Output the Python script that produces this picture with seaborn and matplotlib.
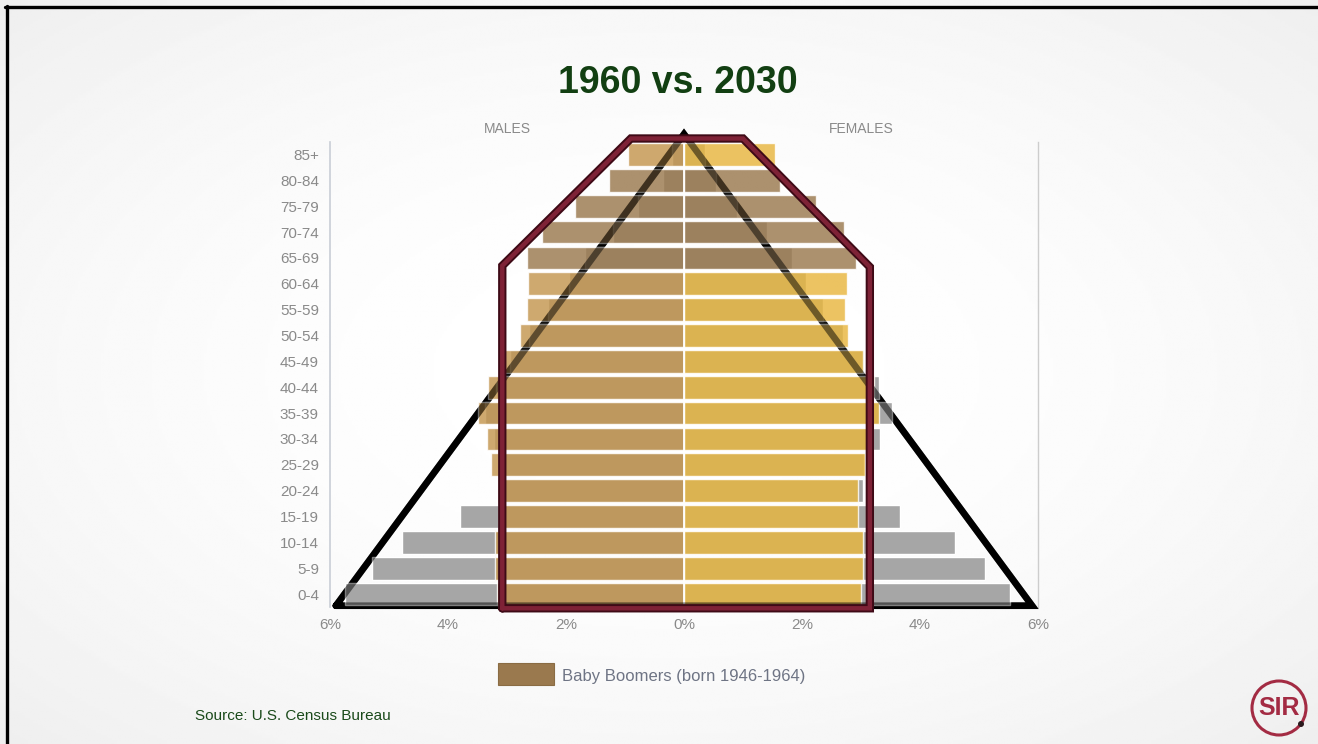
import numpy as np
import pandas as pd
import matplotlib
matplotlib.use("Agg")
import matplotlib.pyplot as plt
import matplotlib.patheffects as pe
from matplotlib.patches import Circle, Rectangle
from matplotlib.lines import Line2D
import seaborn as sns

# Age groups, youngest first
ages = ["0-4", "5-9", "10-14", "15-19", "20-24", "25-29", "30-34", "35-39", "40-44",
        "45-49", "50-54", "55-59", "60-64", "65-69", "70-74", "75-79", "80-84", "85+"]

# Share of total population (%) by sex and age group
male_1960 = [5.75, 5.29, 4.78, 3.80, 3.08, 3.12, 3.22, 3.38, 3.18,
             2.95, 2.62, 2.30, 1.95, 1.68, 1.20, 0.78, 0.36, 0.20]
female_1960 = [5.53, 5.10, 4.59, 3.66, 3.03, 3.05, 3.32, 3.53, 3.30,
               3.05, 2.70, 2.36, 2.07, 1.83, 1.40, 0.90, 0.55, 0.35]
male_2030 = [3.17, 3.20, 3.20, 3.13, 3.15, 3.27, 3.34, 3.49, 3.32,
             3.08, 2.78, 2.66, 2.64, 2.66, 2.41, 1.85, 1.27, 0.95]
female_2030 = [3.00, 3.03, 3.03, 2.95, 2.95, 3.07, 3.12, 3.31, 3.22,
               3.03, 2.78, 2.73, 2.76, 2.92, 2.71, 2.24, 1.63, 1.54]

# Age groups holding the baby boom generation in 2030
boomer_groups = ["65-69", "70-74", "75-79", "80-84"]

x_ticks = [-6, -4, -2, 0, 2, 4, 6]
x_tick_labels = ["6%", "4%", "2%", "0%", "2%", "4%", "6%"]

title = "1960 vs. 2030"
legend_label = "Baby Boomers (born 1946-1964)"
source_note = "Source: U.S. Census Bureau"

# Colours
GRAY_1960 = "#A6A6A6"
MALE_2030 = "#C4964F"
FEMALE_2030 = "#E8B63F"
BOOMER = "#9A794E"
MAROON = "#7E2236"
MAROON_EDGE = "#3E0A16"
GREEN = "#123F12"
LABEL_GRAY = "#8A8A8A"
SPINE = "#C9CED6"

sns.set_style("white")
plt.rcParams["font.family"] = ["Liberation Sans", "DejaVu Sans"]

W, H = 1318, 744
fig = plt.figure(figsize=(W / 100, H / 100), dpi=100)

# soft slide background: white centre fading to light grey
bg = fig.add_axes([0, 0, 1, 1], zorder=-10)
yy, xx = np.mgrid[-1:1:300j, -1:1:500j]
shade = 1.0 - 0.065 * (xx ** 2 + yy ** 2) / 2
bg.imshow(shade, cmap="gray", vmin=0, vmax=1, aspect="auto", extent=[0, 1, 0, 1])
bg.axis("off")

ax = fig.add_axes([330 / W, (H - 607) / H, 708 / W, (607 - 141.6) / H])
ax.patch.set_alpha(0)

order_top = ages[::-1]
df = pd.DataFrame({
    "age": ages,
    "male_1960": -np.asarray(male_1960),
    "female_1960": np.asarray(female_1960),
    "male_2030": -np.asarray(male_2030),
    "female_2030": np.asarray(female_2030),
})
df["cohort"] = np.where(df["age"].isin(boomer_groups), "boomer", "other")

bar_w = 0.88
common = dict(y="age", order=order_top, width=bar_w, saturation=1,
              errorbar=None, ax=ax)

# 1960 pyramid underneath
sns.barplot(data=df, x="male_1960", color=GRAY_1960, zorder=2, **common)
sns.barplot(data=df, x="female_1960", color=GRAY_1960, zorder=2, **common)

# 2030 pyramid on top, slightly see-through
sns.barplot(data=df, x="male_2030", hue="cohort", hue_order=["other", "boomer"],
            palette={"other": MALE_2030, "boomer": BOOMER}, dodge=False,
            legend=False, alpha=0.82, zorder=3, **common)
sns.barplot(data=df, x="female_2030", hue="cohort", hue_order=["other", "boomer"],
            palette={"other": FEMALE_2030, "boomer": BOOMER}, dodge=False,
            legend=False, alpha=0.82, zorder=3, **common)

n = len(ages)
ax.set_xlim(-6, 6)
ax.set_ylim(n - 0.5, -0.5)
ax.axvline(0, color="white", lw=1.3, zorder=3.6)

# Outline shapes: classic pyramid and the 2030 "pillar"
base_y = n - 0.5
tri_x = [-5.9, 0.0, 5.9, -5.9]
tri_y = [base_y - 0.05, -0.79, base_y - 0.05, base_y - 0.05]
ax.plot(tri_x, tri_y, color="black", lw=4.8, solid_joinstyle="miter",
        zorder=1, clip_on=False)
ax.plot(tri_x, tri_y, color="black", lw=4.8, solid_joinstyle="miter",
        alpha=0.5, zorder=4, clip_on=False)

pil_x = [-3.08, -3.08, -0.9, 1.0, 3.15, 3.15, -3.08]
pil_y = [base_y + 0.05, 4.3, -0.62, -0.62, 4.35, base_y + 0.05, base_y + 0.05]
ax.plot(pil_x, pil_y, color=MAROON, lw=3.2, solid_joinstyle="miter", zorder=6,
        clip_on=False,
        path_effects=[pe.Stroke(linewidth=6, foreground=MAROON_EDGE), pe.Normal()])

# Axes styling
ax.set_xlabel("")
ax.set_ylabel("")
ax.set_xticks(x_ticks)
ax.set_xticklabels(x_tick_labels)
ax.set_yticks(range(n))
ax.set_yticklabels(order_top)
ax.set_yticks(np.arange(-0.5, n, 1.0), minor=True)
ax.tick_params(axis="x", length=0, pad=8, labelsize=11, labelcolor=LABEL_GRAY)
ax.tick_params(axis="y", which="major", length=0, pad=8, labelsize=11,
               labelcolor=LABEL_GRAY)
ax.tick_params(axis="y", which="minor", length=5, width=1, color=SPINE,
               direction="out")
for side in ("top", "bottom"):
    ax.spines[side].set_visible(False)
ax.spines["left"].set_color(SPINE)
ax.spines["left"].set_linewidth(1.2)
ax.spines["right"].set_color("#CDCDCD")
ax.spines["right"].set_linewidth(1.0)

ax.text(0.25, 1.027, "MALES", transform=ax.transAxes, ha="center", va="center",
        fontsize=10, color=LABEL_GRAY)
ax.text(0.75, 1.027, "FEMALES", transform=ax.transAxes, ha="center", va="center",
        fontsize=10, color=LABEL_GRAY)

# Title
fig.text(678 / W, 1 - 83 / H, title, ha="center", va="center", fontsize=27,
         fontweight="bold", color=GREEN)

# Legend
fig.add_artist(Rectangle((498 / W, (H - 685) / H), 56 / W, 22 / H,
                         transform=fig.transFigure, facecolor=BOOMER,
                         edgecolor="#8A6C44", lw=0.8))
fig.text(562 / W, 1 - 676 / H, legend_label, ha="left", va="center",
         fontsize=12, color="#6E7484")

# Source note
fig.text(195 / W, 1 - 716 / H, source_note, ha="left", va="center", fontsize=11,
         color="#1A4A1A", family=["Liberation Sans Narrow", "Liberation Sans"])

# Logo mark
logo_c = (12.79, (H - 708) / 100)
fig.add_artist(Circle(logo_c, 0.27, transform=fig.dpi_scale_trans, fill=False,
                      edgecolor="#A32B43", lw=2.2))
fig.text(logo_c[0] / (W / 100), logo_c[1] / (H / 100), "SIR", ha="center",
         va="center", fontsize=18, fontweight="bold", color="#A32B43",
         family=["Liberation Sans Narrow", "Liberation Sans"])
fig.add_artist(Circle((13.01, (H - 724) / 100), 0.03, transform=fig.dpi_scale_trans,
                      facecolor="#2B1A1E", edgecolor="none"))

# Slide frame
fig.add_artist(Line2D([5 / W, 1], [1 - 7 / H] * 2, color="black", lw=2.4))
fig.add_artist(Line2D([7 / W] * 2, [0, 1 - 6 / H], color="black", lw=2.4))

fig.savefig("out.png", dpi=100)
